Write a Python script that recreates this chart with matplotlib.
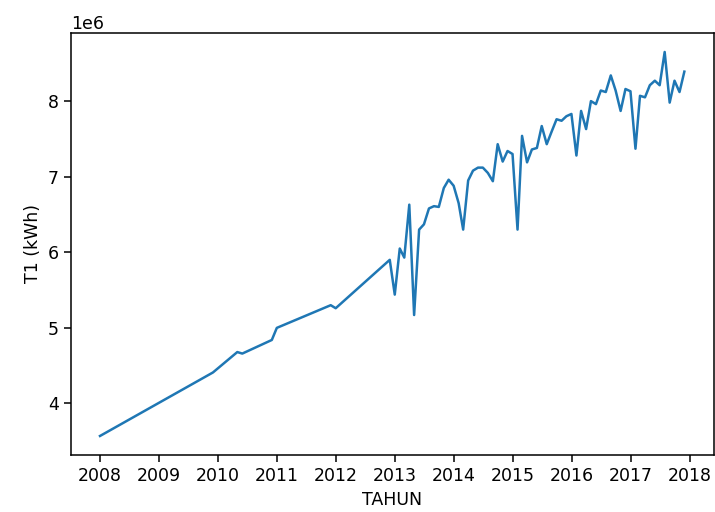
import numpy as np
import pandas as pd
import matplotlib
matplotlib.use("Agg")
import matplotlib.pyplot as plt
import matplotlib.dates as mdates

# early readings are sparse (a few points per year), month-end dates
early_dates = ["2007-12-31", "2009-11-30", "2010-04-30", "2010-05-31",
               "2010-11-30", "2010-12-31", "2011-11-30", "2011-12-31"]
early_t1 = [3.57, 4.41, 4.68, 4.66, 4.84, 5.00, 5.30, 5.26]

# monthly readings from Nov 2012 onwards (in millions of kWh)
monthly_start = "2012-11-30"
monthly_t1 = [
    5.90, 5.44,
    6.05, 5.93, 6.63, 5.17, 6.30, 6.37, 6.58, 6.61, 6.60, 6.85, 6.96, 6.88,
    6.65, 6.30, 6.95, 7.08, 7.12, 7.12, 7.05, 6.94, 7.43, 7.20, 7.34, 7.30,
    6.30, 7.54, 7.19, 7.36, 7.38, 7.67, 7.43, 7.60, 7.76, 7.74, 7.80, 7.83,
    7.28, 7.87, 7.63, 8.00, 7.96, 8.14, 8.12, 8.34, 8.14, 7.87, 8.16, 8.13,
    7.37, 8.07, 8.05, 8.21, 8.27, 8.21, 8.65, 7.98, 8.27, 8.12, 8.39,
]

dates = list(pd.to_datetime(early_dates)) + list(
    pd.date_range(monthly_start, periods=len(monthly_t1), freq="ME"))
t1 = np.array(early_t1 + monthly_t1) * 1e6

fig = plt.figure(figsize=(7.15, 5.12), dpi=100)
ax = fig.add_axes([0.099, 0.111, 0.899, 0.825])
ax.plot(dates, t1, color="#1f77b4", linewidth=1.8)

ax.set_xlabel("TAHUN", fontsize=12.5)
ax.set_ylabel("T1 (kWh)", fontsize=12.5)
ax.xaxis.set_major_locator(mdates.YearLocator())
ax.xaxis.set_major_formatter(mdates.DateFormatter("%Y"))
ax.tick_params(labelsize=12.5, length=5, width=1.1)
ax.yaxis.get_offset_text().set_fontsize(12.5)
for s in ax.spines.values():
    s.set_linewidth(1.1)

fig.savefig("out.png", dpi=100)
